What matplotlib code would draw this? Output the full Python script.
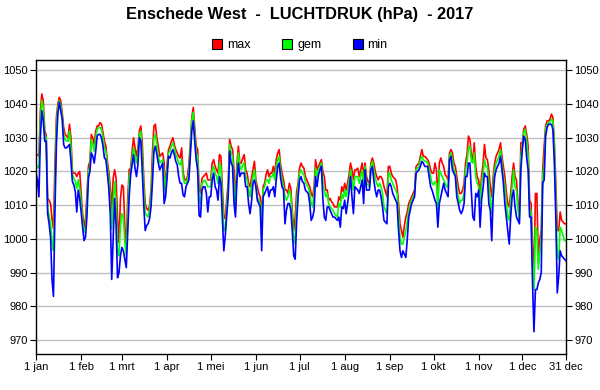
import matplotlib
matplotlib.use("Agg")
import matplotlib.pyplot as plt
from matplotlib.lines import Line2D

plt.rcParams['font.family'] = ['Liberation Sans', 'DejaVu Sans']

# daily air pressure 2017 (hPa), one row per month
p_max = [
    1025, 1025, 1024.5, 1038, 1043, 1041, 1032, 1031, 1012, 1011.5, 1010.5, 1006, 1003, 1022, 1036, 1040, 1042, 1041, 1037.5, 1033, 1031, 1030.5, 1030, 1034, 1030, 1020, 1019.5, 1019.5, 1018.5, 1019.5, 1020,
    1013.5, 1007.5, 1003.5, 1006, 1013, 1021.5, 1023, 1031, 1030, 1028, 1032, 1033.5, 1033.5, 1034.5, 1034, 1031.5, 1029, 1027.5, 1023, 1020, 1015.5, 1008, 1018, 1020.5, 1018, 1006, 999, 1012,
    1016, 1015.5, 1004, 997.5, 1012, 1020.5, 1021, 1026, 1030, 1027, 1024.5, 1027, 1032, 1033.5, 1028.5, 1018, 1010.5, 1009, 1008.5, 1010, 1014.5, 1026, 1033.5, 1034, 1030, 1027.5, 1024.5, 1025, 1025.5, 1022.5, 1014.5,
    1022, 1026.5, 1027.5, 1029, 1030, 1028, 1026.5, 1025.5, 1024.5, 1024, 1027, 1020, 1017.5, 1017.5, 1018.5, 1022, 1028.5, 1036, 1039, 1033, 1027.5, 1026.5, 1015, 1013.5, 1018, 1018.5, 1019, 1019.5, 1017.5, 1017.5,
    1017.5, 1022.5, 1023.5, 1021.5, 1020.5, 1019.5, 1025, 1024.5, 1015, 1006.5, 1006, 1012, 1016.5, 1029.5, 1027.5, 1026.5, 1020.5, 1010.5, 1022.5, 1027.5, 1022.5, 1022.5, 1024, 1025, 1020.5, 1019.5, 1016.5, 1015.5, 1018, 1020.5, 1023,
    1017.5, 1015.5, 1013.5, 1012.5, 1006.5, 1015.5, 1016.5, 1019, 1020.5, 1018.5, 1019.5, 1019.5, 1021.5, 1019.5, 1023.5, 1025.5, 1026.5, 1022, 1019.5, 1017.5, 1014.5, 1014.5, 1013.5, 1016.5, 1015, 1008.5, 1002.5, 1006.5, 1014, 1016.5,
    1021, 1022.5, 1021.5, 1021, 1018.5, 1017.5, 1016.5, 1015.5, 1013.5, 1012.5, 1015.5, 1023.5, 1020.5, 1021.5, 1022.5, 1023.5, 1020, 1018.5, 1014.5, 1014.5, 1011.5, 1012, 1011, 1010.5, 1009.5, 1009.5, 1009.5, 1012.5, 1011.5, 1015.5, 1014,
    1016.5, 1014.5, 1016.5, 1019, 1022.5, 1020.5, 1017.5, 1020.5, 1020.5, 1021, 1018.5, 1020.5, 1022.5, 1018.5, 1022.5, 1018.5, 1017, 1016.5, 1022.5, 1024, 1022.5, 1020, 1018.5, 1017.5, 1018.5, 1018.5, 1017.5, 1015.5, 1014, 1012.5, 1021.5,
    1021.5, 1019.5, 1018.5, 1018, 1017.5, 1015.5, 1010.5, 1004.5, 1002.5, 1000.5, 1004, 1006.5, 1008, 1010.5, 1011.5, 1012.5, 1013.5, 1014.5, 1021.5, 1022, 1022.5, 1024.5, 1026.5, 1024.5, 1024.5, 1024, 1023.5, 1022.5, 1020.5, 1019.5,
    1019.5, 1022.5, 1020.5, 1011.5, 1022.5, 1024, 1022.5, 1021.5, 1019, 1018.5, 1017.5, 1025.5, 1026.5, 1025.5, 1022.5, 1021.5, 1018.5, 1015.5, 1013.5, 1013.5, 1014.5, 1016.5, 1022.5, 1025, 1030.5, 1029.5, 1025, 1023.5, 1028.5, 1021.5, 1018.5,
    1017.5, 1013.5, 1018.5, 1022, 1028, 1024, 1023.5, 1020.5, 1015.5, 1012.5, 1018.5, 1022.5, 1024.5, 1025.5, 1026.5, 1028.5, 1024.5, 1021.5, 1018.5, 1014, 1010.5, 1009.5, 1013.5, 1018.5, 1022.5, 1018.5, 1017.5, 1010.5, 1007.5, 1028.5,
    1028.5, 1032.5, 1033.5, 1031, 1027.5, 1011.5, 1010.5, 998.5, 988, 1013.5, 1013.5, 993, 1000, 1002.5, 1020.5, 1027.5, 1033.5, 1035, 1035, 1035.5, 1037, 1036, 1028.5, 1016.5, 1002.5, 1002.5, 1008, 1005.5, 1005, 1004.5, 1004.5,
]
p_gem = [
    1022, 1021.5, 1021, 1035, 1041, 1039, 1031, 1030, 1009, 1007, 1004.5, 999, 996.5, 1015, 1033, 1039, 1041, 1039.5, 1036.5, 1031, 1029.5, 1029, 1029, 1032, 1027, 1019, 1018, 1017, 1015, 1017.5, 1015,
    1011, 1005.5, 1002, 1003, 1010.5, 1020, 1021.5, 1029.5, 1028, 1026, 1030, 1032.5, 1033, 1033, 1032.5, 1030, 1027, 1026, 1021.5, 1018, 1012, 1003, 1011, 1017, 1011, 996, 995, 1004,
    1007.5, 1006.5, 999, 995, 1007, 1018.5, 1020, 1024, 1027, 1025, 1022.5, 1025, 1031, 1032, 1025, 1015, 1007.5, 1007, 1006.5, 1009, 1012.5, 1021, 1030, 1031, 1028, 1024.5, 1022.5, 1023, 1023.5, 1019.5, 1013.5,
    1020, 1025.5, 1026, 1027.5, 1028.5, 1027, 1025, 1024, 1022.5, 1022, 1023.5, 1018.5, 1016.5, 1016.5, 1017.5, 1019.5, 1027.5, 1035, 1037.5, 1031, 1025.5, 1024.5, 1012, 1010.5, 1016.5, 1017, 1017.5, 1016.5, 1015.5, 1015.5,
    1015.5, 1020.5, 1021.5, 1019.5, 1018.5, 1016.5, 1022.5, 1021.5, 1012, 1002.5, 1002.5, 1010, 1014.5, 1028, 1025.5, 1024.5, 1015.5, 1008.5, 1020.5, 1025.5, 1021.5, 1020.5, 1022, 1022.5, 1018.5, 1017.5, 1014.5, 1012.5, 1016, 1018.5, 1020.5,
    1016.5, 1012.5, 1011.5, 1010.5, 1004.5, 1014.5, 1015.5, 1017.5, 1017.5, 1016.5, 1018.5, 1018.5, 1019.5, 1017.5, 1021.5, 1023.5, 1024.5, 1020, 1017.5, 1015.5, 1012.5, 1011.5, 1012.5, 1014.5, 1013, 1006.5, 998.5, 1000.5, 1010, 1015.5,
    1019.5, 1020.5, 1019.5, 1019, 1017, 1016, 1015.5, 1013.5, 1010.5, 1009.5, 1013.5, 1021, 1018.5, 1020.5, 1021.5, 1022.5, 1017, 1014.5, 1012.5, 1013.5, 1010.5, 1009.5, 1009, 1008.5, 1007.5, 1007, 1006.5, 1010.5, 1009.5, 1013.5, 1012,
    1014.5, 1012.5, 1014.5, 1017, 1020.5, 1017.5, 1014.5, 1018.5, 1018.5, 1018.5, 1016.5, 1018.5, 1020.5, 1015.5, 1021.5, 1016.5, 1016, 1015.5, 1021.5, 1023, 1020.5, 1018, 1016.5, 1015.5, 1016.5, 1015.5, 1013.5, 1009.5, 1008.5, 1007.5, 1019.5,
    1019.5, 1017.5, 1016.5, 1015.5, 1014.5, 1013.5, 1007.5, 1000.5, 998.5, 998.5, 1000.5, 1002.5, 1005, 1008.5, 1010.5, 1011.5, 1012.5, 1013.5, 1020.5, 1021, 1021.5, 1023.5, 1024.5, 1023.5, 1023, 1023, 1022.5, 1020.5, 1018.5, 1016.5,
    1016, 1017, 1016.5, 1008.5, 1020.5, 1019.5, 1018.5, 1017.5, 1016.5, 1015.5, 1015.5, 1024.5, 1025.5, 1023.5, 1020.5, 1019.5, 1015.5, 1012.5, 1010.5, 1011.5, 1011.5, 1013.5, 1020.5, 1022.5, 1027, 1027.5, 1023, 1022.5, 1025.5, 1018.5, 1016.5,
    1015.5, 1010.5, 1016.5, 1019, 1023.5, 1021.5, 1021.5, 1016.5, 1011.5, 1007.5, 1016.5, 1020.5, 1022.5, 1023.5, 1024.5, 1026.5, 1022.5, 1018.5, 1015.5, 1011, 1006.5, 1005.5, 1011.5, 1015.5, 1020.5, 1015.5, 1014.5, 1008.5, 1006, 1024.5,
    1027.5, 1031.5, 1032.5, 1029, 1024.5, 1008.5, 1008.5, 993, 985, 1003.5, 1002.5, 991, 996, 1000.5, 1018.5, 1022.5, 1032.5, 1034, 1034.5, 1034.5, 1035.5, 1035, 1027.5, 1012.5, 995, 994, 1003.5, 1002.5, 1001, 999.5, 999.5,
]
p_min = [
    1019.5, 1017.5, 1012.5, 1030, 1038, 1035, 1029, 1029, 1007.5, 1004.5, 1000.5, 988, 983, 1008, 1028, 1037, 1040.5, 1038, 1035.5, 1028, 1027, 1027, 1027.5, 1028, 1023, 1017, 1016, 1014, 1008, 1014.5, 1012,
    1008, 1003.5, 999.5, 1000.5, 1007, 1018, 1020, 1025.5, 1024.5, 1022.5, 1026, 1030.5, 1031, 1031, 1030, 1027.5, 1024, 1023.5, 1019.5, 1015, 1007.5, 988, 1000, 1012, 1004, 988.5, 990, 995,
    997.5, 996.5, 994, 991.5, 1002, 1012.5, 1019, 1022, 1025, 1021, 1018.5, 1022, 1030, 1029, 1020, 1010, 1002.5, 1004, 1004.5, 1006, 1009.5, 1017, 1026, 1027.5, 1025, 1022.5, 1020.5, 1021.5, 1022.5, 1010.5, 1012.5,
    1018, 1024.5, 1024, 1025.5, 1026.5, 1025, 1023, 1022, 1018.5, 1016.5, 1016.5, 1013, 1012.5, 1015.5, 1016.5, 1017.5, 1024.5, 1032, 1035, 1029, 1023.5, 1020.5, 1007, 1006.5, 1014.5, 1015.5, 1015.5, 1013.5, 1008, 1012.5,
    1012.5, 1017.5, 1019.5, 1015.5, 1014.5, 1011.5, 1018.5, 1016.5, 1006, 996.5, 1001, 1007, 1012.5, 1026, 1022.5, 1021.5, 1010.5, 1006.5, 1017.5, 1022.5, 1018.5, 1019.5, 1019.5, 1019.5, 1015.5, 1015.5, 1010.5, 1007.5, 1011, 1016.5, 1017.5,
    1015.5, 1011.5, 1010.5, 1009.5, 996.5, 1012.5, 1013.5, 1014.5, 1015.5, 1012.5, 1014.5, 1014.5, 1015.5, 1012.5, 1017.5, 1021.5, 1022.5, 1018, 1015.5, 1014.5, 1004.5, 1008.5, 1010.5, 1010.5, 1008.5, 1002.5, 995, 994, 1005, 1012.5,
    1017.5, 1018.5, 1017, 1016.5, 1014.5, 1014, 1013.5, 1010.5, 1005.5, 1006.5, 1008.5, 1018.5, 1015.5, 1019, 1020.5, 1021.5, 1012, 1006.5, 1005.5, 1009.5, 1009.5, 1008.5, 1007.5, 1006.5, 1006.5, 1006, 1005.5, 1006.5, 1003.5, 1009.5, 1009,
    1011.5, 1007.5, 1010.5, 1014, 1018.5, 1012.5, 1007.5, 1015.5, 1015, 1014.5, 1013.5, 1015.5, 1017.5, 1010.5, 1020.5, 1014.5, 1014.5, 1014.5, 1020.5, 1021.5, 1017.5, 1014.5, 1012.5, 1014.5, 1014.5, 1012.5, 1009.5, 1005.5, 1005, 1004.5, 1015.5,
    1016.5, 1015.5, 1013.5, 1012.5, 1011.5, 1010.5, 1002.5, 996.5, 994.5, 996.5, 995.5, 994.5, 1000, 1006.5, 1008.5, 1010.5, 1011.5, 1012.5, 1019.5, 1020, 1020.5, 1021.5, 1023, 1022.5, 1021.5, 1021.5, 1021.5, 1018.5, 1015.5, 1014.5,
    1013, 1011.5, 1010.5, 1003.5, 1010.5, 1012.5, 1014.5, 1016.5, 1014.5, 1013.5, 1012.5, 1023.5, 1024.5, 1020.5, 1019.5, 1018.5, 1012.5, 1010.5, 1008.5, 1007.5, 1008.5, 1010.5, 1018.5, 1018.5, 1022.5, 1022.5, 1014, 1006.5, 1005.5, 1013.5, 1012.5,
    1014.5, 1003.5, 1011.5, 1015, 1019.5, 1018.5, 1018.5, 1010.5, 1008.5, 999.5, 1012.5, 1018.5, 1020.5, 1021.5, 1022.5, 1024.5, 1020.5, 1016.5, 1010.5, 1006.5, 1002.5, 998.5, 1006.5, 1012.5, 1014.5, 1009.5, 1006.5, 1005.5, 1004.5, 1020.5,
    1026.5, 1030.5, 1029.5, 1024, 1020.5, 1006.5, 1006.5, 987, 972.5, 985, 985, 987, 988, 990, 1016.5, 1017.5, 1030.5, 1033, 1034, 1034, 1034, 1032.5, 1022.5, 1006.5, 984, 989, 996.5, 995, 994.5, 994, 993.5,
]

tick_days = [0, 31, 59, 90, 120, 151, 181, 212, 243, 273, 304, 334, 364]
tick_labels = ['1 jan', '1 feb', '1 mrt', '1 apr', '1 mei', '1 jun', '1 jul',
               '1 aug', '1 sep', '1 okt', '1 nov', '1 dec', '31 dec']

days = list(range(len(p_max)))

fig = plt.figure(figsize=(6, 3.9), dpi=100)
ax = fig.add_axes([36/600, 1 - 354/390, 530/600, 294/390])

ax.plot(days, p_max, color='#ff0000', lw=1.2)
ax.plot(days, p_gem, color='#00ff00', lw=1.2)
ax.plot(days, p_min, color='#0000ff', lw=1.2)

ax.set_xlim(0, 364)
ax.set_ylim(965.9, 1053.05)
ax.set_yticks(range(970, 1051, 10))
ax.set_xticks(tick_days)
ax.set_xticklabels(tick_labels)
ax.yaxis.grid(True, color='#c0c0c0', lw=1.0)
ax.set_axisbelow(True)
ax.tick_params(axis='both', labelsize=8, length=4, width=0.8, direction='out', pad=2)
ax.tick_params(axis='y', right=True, labelright=True)
for s in ax.spines.values():
    s.set_linewidth(1.0)

fig.text(0.5, 1 - 14/390, 'Enschede West  -  LUCHTDRUK (hPa)  - 2017',
         ha='center', va='center', fontsize=11.8, fontweight='bold')

handles = [Line2D([], [], ls='none', marker='s', markersize=7, markerfacecolor=c,
                  markeredgecolor='black', markeredgewidth=0.8, label=l)
           for c, l in [('#ff0000', 'max'), ('#00ff00', 'gem'), ('#0000ff', 'min')]]
fig.legend(handles=handles, loc='center', bbox_to_anchor=(0.5, 1 - 45/390), ncol=3,
           frameon=False, fontsize=9, handlelength=0.8, handletextpad=0.4,
           columnspacing=2.5)

fig.savefig('out.png', dpi=100)
